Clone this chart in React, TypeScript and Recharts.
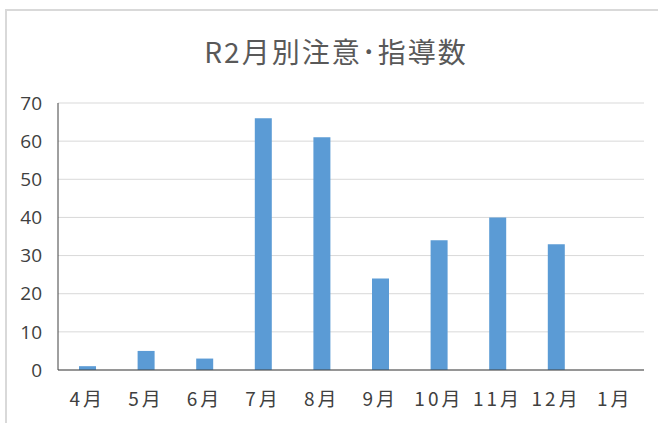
import { BarChart, Bar, XAxis, YAxis, CartesianGrid } from "recharts";

const months = ["4月", "5月", "6月", "7月", "8月", "9月", "10月", "11月", "12月", "1月"];
const counts = [1, 5, 3, 66, 61, 24, 34, 40, 33, 0];
const yTicks = [0, 10, 20, 30, 40, 50, 60, 70];

const data = months.map((m, i) => ({ month: m, count: counts[i] }));

const cjk = '"Noto Sans CJK JP", "Noto Sans", sans-serif';

export default function App() {
	return (
		<div
			style={{
				position: "absolute",
				left: 0,
				top: 0,
				width: 658,
				height: 423,
				overflow: "hidden",
				background: "#fff",
				fontFamily: cjk,
			}}
		>
			<div
				style={{
					position: "absolute",
					left: 5,
					top: 9,
					width: 800,
					height: 600,
					border: "2px solid #d9d9d9",
				}}
			/>
			<div
				style={{
					position: "absolute",
					left: 0,
					top: 31,
					width: 672,
					textAlign: "center",
					fontSize: 28,
					letterSpacing: 2,
					color: "#595959",
					lineHeight: "40px",
				}}
			>
				R2月別注意･指導数
			</div>
			<div style={{ position: "absolute", left: 0, top: 0 }}>
				<BarChart
					width={658}
					height={423}
					data={data}
					margin={{ top: 103, right: 14, bottom: 23, left: 0 }}
				>
					<CartesianGrid vertical={false} stroke="#d9d9d9" />
					<XAxis
						dataKey="month"
						height={30}
						tickLine={false}
						axisLine={{ stroke: "#404040" }}
						tickMargin={17}
						tick={{ fill: "#404040", fontSize: 19, fontFamily: cjk, letterSpacing: 3 }}
						interval={0}
					/>
					<YAxis
						width={58}
						domain={[0, 70]}
						ticks={yTicks}
						tickLine={false}
						axisLine={{ stroke: "#404040" }}
						tickMargin={10}
						tick={{ fill: "#404040", fontSize: 19, fontFamily: '"Open Sans", sans-serif' }}
					/>
					<Bar dataKey="count" fill="#5b9bd5" barSize={17} isAnimationActive={false} />
				</BarChart>
			</div>
		</div>
	);
}
